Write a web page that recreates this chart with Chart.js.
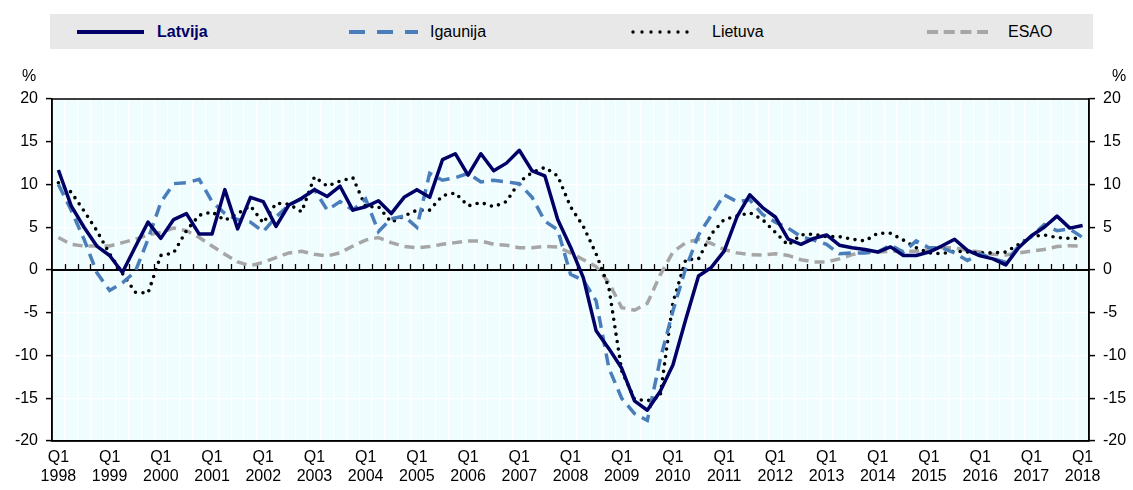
<!DOCTYPE html>
<html><head><meta charset="utf-8">
<script src="https://cdn.jsdelivr.net/npm/chart.js@4.4.1/dist/chart.umd.min.js"></script>
<style>
html,body{margin:0;padding:0;background:#fff;}
#wrap{position:relative;width:1133px;height:490px;font-family:"Liberation Sans",Arial,sans-serif;}
#c{position:absolute;left:0;top:0;}
#legend{position:absolute;left:50px;top:14px;width:1043px;height:35px;background:#e8e8e8;}
.lab{position:absolute;top:8px;font-size:16px;line-height:19px;color:#000;white-space:nowrap;}
.pct{position:absolute;top:66px;font-size:16px;line-height:19px;color:#000;}
</style></head>
<body><div id="wrap">
<canvas id="c" width="1133" height="490"></canvas>
<div id="legend">
<svg width="1043" height="35" style="position:absolute;left:0;top:0">
 <line x1="27" y1="18" x2="94" y2="18" stroke="#000066" stroke-width="4"/>
 <line x1="299" y1="18" x2="368" y2="18" stroke="#4a7ebb" stroke-width="4" stroke-dasharray="16 12"/>
 <line x1="583" y1="18" x2="646" y2="18" stroke="#000" stroke-width="3.4" stroke-dasharray="0 9" stroke-linecap="round"/>
 <line x1="877" y1="18" x2="938" y2="18" stroke="#a6a6a6" stroke-width="4" stroke-dasharray="11 5.7"/>
</svg>
<span class="lab" style="left:107px;font-weight:bold;color:#000066">Latvija</span>
<span class="lab" style="left:380px">Igaunija</span>
<span class="lab" style="left:662px">Lietuva</span>
<span class="lab" style="left:958px">ESAO</span>
</div>
<div class="pct" style="left:22px">%</div>
<div class="pct" style="left:1112px">%</div>
</div>
<script>
const years = ['1998','1999','2000','2001','2002','2003','2004','2005','2006','2007','2008','2009','2010','2011','2012','2013','2014','2015','2016','2017','2018'];
const quarterNames = ['Q1','Q2','Q3','Q4'];
const seriesNames = ['Latvija','Igaunija','Lietuva','ESAO'];

const latvija = [11.7, 7.5, 5.0, 2.8, 1.7, -0.3, 2.7, 5.6, 3.7, 5.9,
 6.6, 4.2, 4.2, 9.4, 4.8, 8.5, 8.0, 5.1, 7.6, 8.4,
 9.4, 8.6, 9.8, 7.0, 7.4, 8.1, 6.6, 8.5, 9.4, 8.5,
 12.9, 13.6, 11.1, 13.6, 11.6, 12.5, 14.0, 11.6, 11.0, 5.9,
 2.7, -0.9, -7.1, -9.2, -11.5, -15.3, -16.4, -14.2, -11.1, -5.8,
 -0.7, 0.3, 2.2, 6.2, 8.8, 7.3, 6.2, 3.6, 3.0, 3.7,
 4.1, 2.9, 2.6, 2.4, 2.1, 2.7, 1.7, 1.7, 2.1, 2.8,
 3.6, 2.3, 1.65, 1.3, 0.6, 2.6, 4.0, 5.0, 6.3, 4.9, 5.2];

const igaunija = [10.0, 7.0, 3.6, -0.3, -2.4, -1.5, -0.2, 3.6, 7.9, 10.1,
 10.2, 10.6, 8.0, 6.6, 5.9, 5.6, 4.5, 6.2, 7.6, 8.3,
 9.4, 7.0, 8.0, 7.0, 8.3, 4.5, 6.0, 6.3, 5.0, 11.3,
 10.5, 10.8, 11.3, 10.3, 10.5, 10.3, 10.1, 8.5, 5.7, 4.7,
 -0.5, -1.2, -3.6, -11.5, -15.0, -16.8, -17.6, -10.5, -4.8, 0.2,
 4.1, 6.4, 8.8, 8.0, 8.2, 6.5, 5.6, 4.9, 3.9, 3.5,
 3.0, 1.9, 2.0, 2.0, 2.1, 2.9, 2.1, 3.4, 2.6, 2.6,
 2.0, 1.1, 1.9, 1.3, 0.9, 2.8, 3.9, 5.3, 4.6, 4.8, 3.8];

const lietuva = [10.2, 9.1, 6.9, 4.6, 1.9, -0.4, -2.6, -2.7, 1.7, 2.0,
 4.6, 6.4, 6.8, 5.8, 6.6, 7.5, 5.5, 7.8, 7.7, 6.8,
 10.9, 9.8, 10.4, 10.8, 7.4, 7.4, 5.6, 6.3, 7.0, 7.0,
 8.7, 9.0, 7.5, 7.9, 7.4, 8.0, 10.3, 11.4, 12.0, 11.0,
 7.4, 5.1, 1.9, -2.1, -11.8, -15.1, -15.3, -14.8, -3.8, 1.2,
 1.3, 4.2, 5.9, 6.3, 6.7, 5.9, 4.4, 2.9, 4.1, 4.2,
 3.9, 3.9, 3.6, 3.4, 4.3, 4.3, 3.5, 2.6, 2.0, 1.9,
 2.2, 2.1, 2.0, 2.0, 2.1, 3.0, 3.9, 4.1, 3.8, 3.7, 3.7];

const esao = [3.8, 3.0, 2.8, 2.8, 2.8, 3.2, 3.6, 4.1, 4.4, 4.9,
 4.6, 3.8, 2.8, 1.85, 0.95, 0.5, 0.9, 1.45, 2.0, 2.2,
 1.85, 1.65, 2.0, 2.8, 3.5, 3.8, 3.2, 2.75, 2.6, 2.75,
 3.0, 3.2, 3.4, 3.4, 3.0, 2.9, 2.6, 2.6, 2.75, 2.7,
 2.0, 1.2, 0.4, -1.5, -4.4, -4.7, -3.9, -0.6, 2.1, 3.2,
 3.6, 3.1, 2.4, 2.0, 1.8, 1.75, 1.9, 1.7, 1.2, 0.95,
 0.95, 1.3, 1.8, 2.1, 2.1, 2.2, 2.2, 2.2, 2.4, 2.6,
 2.6, 2.3, 2.1, 1.85, 1.75, 2.0, 2.2, 2.4, 2.75, 2.85, 2.8];

const yTicks = [-20, -15, -10, -5, 0, 5, 10, 15, 20];

// category labels: quarters from Q1 1998 to Q1 2018
const categories = [];
years.forEach((yr, k) => {
  quarterNames.forEach(q => {
    if (k < years.length - 1 || q === 'Q1') categories.push(q + ' ' + yr);
  });
});

const FONT = '"Liberation Sans", Arial, sans-serif';
const tickFont = {family: FONT, size: 16};

const deco = {
  id: 'deco',
  beforeDraw(chart) {
    const {ctx, chartArea: a} = chart;
    ctx.save();
    ctx.fillStyle = '#effdff';
    ctx.fillRect(a.left, a.top, a.right - a.left, a.bottom - a.top);
    ctx.restore();
  },
  beforeDatasetsDraw(chart) {
    const {ctx, chartArea: a, scales} = chart;
    const x = scales.x, y = scales.y;
    const y0 = y.getPixelForValue(0);
    const half = (x.getPixelForValue(1) - x.getPixelForValue(0)) / 2;
    ctx.save();
    ctx.strokeStyle = '#000';
    ctx.lineWidth = 1.3;
    ctx.beginPath();
    for (let i = 1; i < categories.length; i++) {
      const px = Math.round(x.getPixelForValue(i) - half) + 0.5;
      ctx.moveTo(px, y0);
      ctx.lineTo(px, y0 - 6);
    }
    ctx.stroke();
    ctx.lineWidth = 2;
    ctx.beginPath();
    ctx.moveTo(a.left, y0);
    ctx.lineTo(a.right, y0);
    ctx.stroke();
    ctx.lineWidth = 1.5;
    ctx.strokeRect(a.left, a.top, a.right - a.left, a.bottom - a.top);
    ctx.restore();
  }
};

const yScale = (pos) => ({
  position: pos,
  min: -20, max: 20,
  afterBuildTicks: s => { s.ticks = yTicks.map(v => ({value: v})); },
  ticks: {color: '#000', font: tickFont, padding: 8},
  grid: {
    drawOnChartArea: pos === 'left',
    color: '#ffffff', lineWidth: 1.2,
    tickColor: '#000', tickLength: 6, tickWidth: 1.5
  },
  border: {display: true, color: '#000', width: 1.5},
  afterFit: s => { s.width = pos === 'left' ? 52 : 44; }
});

new Chart(document.getElementById('c'), {
  type: 'line',
  data: {
    labels: categories,
    datasets: [
      {label: seriesNames[0], data: latvija, borderColor: '#000066', borderWidth: 3.5, pointRadius: 0, tension: 0, borderJoinStyle: 'round', yAxisID: 'y'},
      {label: seriesNames[1], data: igaunija, borderColor: '#4a7ebb', borderWidth: 3.5, borderDash: [12, 7], pointRadius: 0, tension: 0, yAxisID: 'y'},
      {label: seriesNames[2], data: lietuva, borderColor: '#000000', borderWidth: 3.6, borderDash: [0, 7.5], borderCapStyle: 'round', pointRadius: 0, tension: 0, yAxisID: 'y'},
      {label: seriesNames[3], data: esao, borderColor: '#a6a6a6', borderWidth: 3.5, borderDash: [10, 6], pointRadius: 0, tension: 0, yAxisID: 'y'}
    ]
  },
  options: {
    responsive: false,
    devicePixelRatio: 1,
    animation: false,
    layout: {padding: {top: 99, left: 0, right: 0, bottom: 0}},
    plugins: {legend: {display: false}, tooltip: {enabled: false}},
    scales: {
      x: {
        type: 'category',
        offset: true,
        grid: {offset: true, color: '#ffffff', lineWidth: 1.2, drawTicks: false},
        border: {display: true, color: '#000', width: 1.5},
        ticks: {
          autoSkip: false, maxRotation: 0, minRotation: 0, padding: 7,
          color: '#000', font: tickFont,
          callback: (v, i) => categories[i].startsWith('Q1') ? categories[i].split(' ') : ''
        },
        afterFit: s => { s.height = 49; }
      },
      y: yScale('left'),
      y2: yScale('right')
    }
  },
  plugins: [deco]
});
</script>
</body></html>
